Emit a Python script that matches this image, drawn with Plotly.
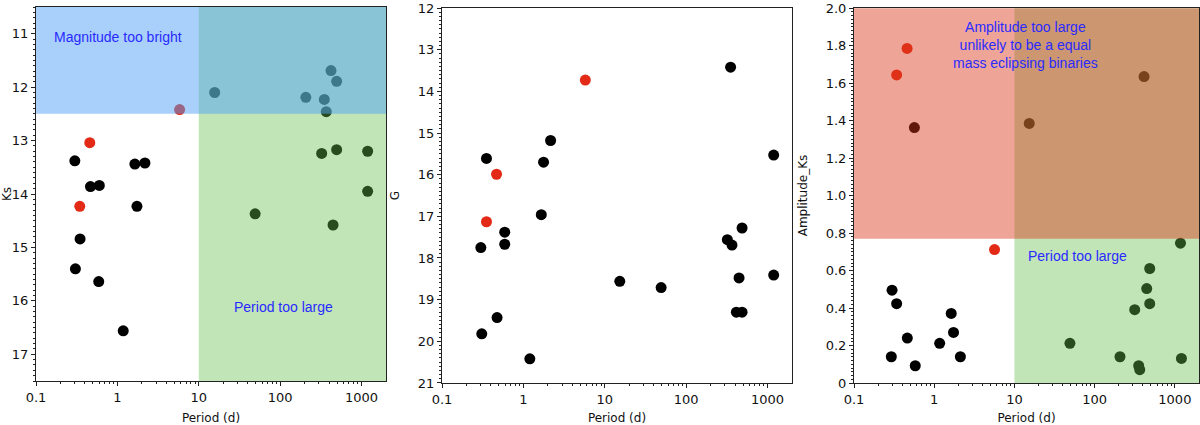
import plotly.graph_objects as go
from plotly.subplots import make_subplots

# panel 1: Ks magnitude vs period
ks_period_black = [15.7, 207, 349, 369, 422, 495, 0.30, 1.64, 2.18, 0.467, 0.60, 1.74,
                   0.348, 0.305, 0.59, 1.18, 324, 495, 1190, 1190, 49.3, 447]
ks_black = [12.10, 12.19, 12.23, 12.46, 11.69, 11.89, 13.38, 13.44, 13.42, 13.86, 13.84, 14.23,
            14.84, 15.40, 15.64, 16.56, 13.24, 13.17, 13.20, 13.95, 14.37, 14.58]
ks_period_red = [0.458, 0.345, 5.82]
ks_red = [13.04, 14.23, 12.42]

# panel 2: G magnitude vs period
g_period_black = [352, 2.16, 0.352, 1.77, 1191, 1.66, 0.59, 0.59, 0.30, 15.3, 49.3, 321,
                  366, 487, 447, 1191, 414, 487, 0.475, 0.308, 1.2]
g_black = [13.42, 15.18, 15.61, 15.70, 15.53, 16.96, 17.38, 17.67, 17.75, 18.56, 18.71, 17.56,
           17.69, 17.28, 18.48, 18.41, 19.30, 19.30, 19.43, 19.82, 20.42]
g_period_red = [5.77, 0.468, 0.352]
g_red = [13.73, 15.99, 17.13]

# panel 3: Ks amplitude vs period
amp_period_black = [0.566, 15.3, 413, 1175, 486, 446, 486, 316, 49.2, 207, 354, 365, 1208,
                    0.298, 0.34, 1.63, 1.74, 0.462, 1.17, 0.292, 2.12, 0.58]
amp_black = [1.363, 1.385, 1.635, 0.746, 0.611, 0.504, 0.423, 0.391, 0.212, 0.14, 0.092, 0.071, 0.131,
             0.495, 0.423, 0.371, 0.27, 0.24, 0.212, 0.14, 0.14, 0.092]
amp_period_red = [0.459, 0.34, 5.65]
amp_red = [1.785, 1.644, 0.712]

period_cut = 10
ks_cut = 12.5
amp_cut = 0.77
period_min, period_max = 0.1, 2000

x_ticks = [0.1, 1, 10, 100, 1000]
x_minor = [m * d for d in x_ticks for m in range(2, 10) if m * d < period_max]

RED = '#e32a16'
TXT = '#2a2aff'
FONT = 'DejaVu Sans'
EPS = 1e-3

fig = make_subplots(rows=1, cols=3)

panels = [
    (ks_period_black, ks_black, ks_period_red, ks_red),
    (g_period_black, g_black, g_period_red, g_red),
    (amp_period_black, amp_black, amp_period_red, amp_red),
]
for i, (pb, vb, pr, vr) in enumerate(panels, start=1):
    fig.add_trace(go.Scatter(x=pb, y=vb, mode='markers', showlegend=False,
                             marker=dict(color='black', size=11)), row=1, col=i)
    fig.add_trace(go.Scatter(x=pr, y=vr, mode='markers', showlegend=False,
                             marker=dict(color=RED, size=11)), row=1, col=i)

# shaded regions drawn over the points (translucent, like matplotlib spans)
green = 'rgba(100,190,75,0.4)'
fig.add_shape(type='rect', xref='x', yref='y', x0=period_cut, x1=period_max,
              y0=17.5, y1=10.5, fillcolor=green, line_width=0, layer='above')
fig.add_shape(type='rect', xref='x', yref='y', x0=period_min, x1=period_max,
              y0=ks_cut, y1=10.5, fillcolor='rgba(81,161,245,0.5)', line_width=0, layer='above')
fig.add_shape(type='rect', xref='x3', yref='y3', x0=period_cut, x1=period_max,
              y0=0, y1=2, fillcolor=green, line_width=0, layer='above')
fig.add_shape(type='rect', xref='x3', yref='y3', x0=period_min, x1=period_max,
              y0=amp_cut, y1=2, fillcolor='rgba(218,56,27,0.45)', line_width=0, layer='above')

W, H = 1200, 425
doms = [((36, 386), (7, 381)), ((442, 792), (8, 383)), ((854, 1199), (8, 383))]
for i, ((x0, x1), (y0, y1)) in enumerate(doms, start=1):
    fig.update_xaxes(domain=[x0 / W, x1 / W], row=1, col=i)
    fig.update_yaxes(domain=[1 - y1 / H, 1 - y0 / H], row=1, col=i)

axis_common = dict(showgrid=False, zeroline=False, showline=True, linecolor='#222', linewidth=1,
                   mirror=True, ticks='outside', ticklen=4, tickcolor='#222',
                   tickfont=dict(family=FONT, size=13, color='#111'),
                   title_font=dict(family=FONT, size=12, color='#111'),
                   automargin=False, ticklabeloverflow='allow')

fig.update_xaxes(type='log', range=[-1, 3.301], tickvals=x_ticks,
                 ticktext=['0.1', '1', '10', '100', '1000'],
                 minor=dict(tickvals=x_minor, ticks='outside', ticklen=2, tickcolor='#222'),
                 title_text='Period (d)', **axis_common)

fig.update_yaxes(range=[17.5, 10.5], tickvals=[11, 12, 13, 14, 15, 16, 17],
                 minor=dict(dtick=0.1, ticks='outside', ticklen=2, tickcolor='#222'),
                 title_text='Ks', row=1, col=1, **axis_common)
fig.update_yaxes(range=[21 + EPS, 12 - EPS], tickvals=list(range(12, 22)),
                 minor=dict(dtick=0.1, ticks='outside', ticklen=2, tickcolor='#222'),
                 title_text='G', row=1, col=2, **axis_common)
fig.update_yaxes(range=[0, 2 + EPS], tickvals=[0, 0.2, 0.4, 0.6, 0.8, 1.0, 1.2, 1.4, 1.6, 1.8, 2.0],
                 ticktext=['0', '0.2', '0.4', '0.6', '0.8', '1.0', '1.2', '1.4', '1.6', '1.8', '2.0'],
                 minor=dict(dtick=0.02, ticks='outside', ticklen=2, tickcolor='#222'),
                 title_text='Amplitude_Ks', row=1, col=3, **axis_common)

ann_font = dict(family='Liberation Sans', size=14, color=TXT)
ann_common = dict(showarrow=False, font=ann_font, xanchor='center', yanchor='middle')
fig.add_annotation(text='Magnitude too bright', xref='x domain', yref='y domain',
                   x=0.234, y=0.92, **ann_common)
fig.add_annotation(text='Period too large', xref='x domain', yref='y domain',
                   x=0.706, y=0.199, **ann_common)
fig.add_annotation(text='Amplitude too large<br>unlikely to be a equal<br>mass eclipsing binaries',
                   xref='x3 domain', yref='y3 domain', x=0.498, y=0.9, **ann_common)
fig.add_annotation(text='Period too large', xref='x3 domain', yref='y3 domain',
                   x=0.649, y=0.339, **ann_common)

fig.update_layout(width=W, height=H, margin=dict(l=0, r=0, t=0, b=0),
                  plot_bgcolor='white', paper_bgcolor='white')

# drop the default page margin so the figure fills the window exactly
fig.write_html('out.html', config={'displayModeBar': False},
               post_script="document.body.style.margin='0';")
